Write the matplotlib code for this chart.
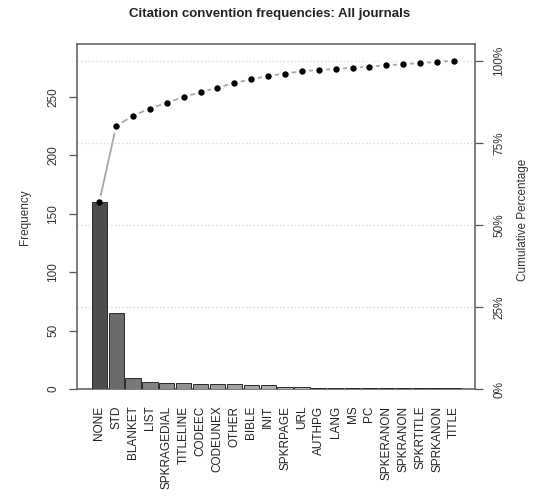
import numpy as np
import matplotlib
matplotlib.use("Agg")
import matplotlib.pyplot as plt

plt.rcParams['font.family'] = ['Liberation Sans', 'DejaVu Sans']

categories = ["NONE", "STD", "BLANKET", "LIST", "SPKRAGEDIAL", "TITLELINE",
              "CODEEC", "CODEUNEX", "OTHER", "BIBLE", "INIT", "SPKRPAGE",
              "URL", "AUTHPG", "LANG", "MS", "PC", "SPKERANON", "SPKRANON",
              "SPKRTITLE", "SPRKANON", "TITLE"]
frequency = [160, 65, 9, 6, 5, 5, 4, 4, 4, 3, 3, 2, 2, 1, 1, 1, 1, 1, 1, 1, 1, 1]
left_ticks = [0, 50, 100, 150, 200, 250]
pct_ticks = [0, 25, 50, 75, 100]
pct_labels = ["0%", "25%", "50%", "75%", "100%"]

W, H = 535, 496
fig = plt.figure(figsize=(W / 100, H / 100), dpi=100)
L, R, T, B = 77.3, 475, 44.3, 389
ax = fig.add_axes([L / W, 1 - B / H, (R - L) / W, (B - T) / H])

n = len(categories)
x = np.arange(n)
freq = np.array(frequency, dtype=float)
cum = np.cumsum(freq)
total = cum[-1]

# grey gradient, dark to light
g = 0.3 + 0.55 * (np.arange(n) / (n - 1)) ** 0.5
colors = [(v, v, v) for v in g]

ax.set_xlim(-1.3, n - 1 + 1.25)
ax.set_ylim(0, total * 1.05)

# grid lines at cumulative percentages
for p in pct_ticks[1:]:
    ax.axhline(total * p / 100, color="#d4d4d4", lw=0.9, ls=(0, (1, 2)), zorder=0)

ax.plot(x, cum, color="#a8a8a8", lw=1.3, zorder=3)
ax.plot(x, cum, ls="none", marker="o", ms=9.5, mfc="white", mec="white",
        mew=0, zorder=3.5)
ax.bar(x, freq, width=0.9, color=colors, edgecolor="#2a2a2a", linewidth=0.7, zorder=4)
ax.plot(x, cum, ls="none", marker="o", ms=4.6, mfc="black", mec="black",
        mew=0, zorder=5)

ax.set_xticks(x)
ax.set_xticklabels(categories, rotation=90, fontsize=8.5, color="#222222")
ax.tick_params(axis="x", length=0, pad=12)

ax.set_yticks(left_ticks)
ax.set_yticklabels([str(t) for t in left_ticks], fontsize=8.5, color="#333333")
ax.tick_params(axis="y", length=6, width=0.9, color="#555555", pad=7)
for lab in ax.get_yticklabels():
    lab.set_rotation(90)
    lab.set_va("center")

for s in ax.spines.values():
    s.set_color("#666666")
    s.set_linewidth(1.2)

ax2 = ax.twinx()
ax2.set_ylim(ax.get_ylim())
ax2.set_yticks([total * p / 100 for p in pct_ticks])
ax2.set_yticklabels(pct_labels, fontsize=8.5, color="#333333")
ax2.tick_params(axis="y", length=6, width=0.9, color="#555555", pad=7)
for lab in ax2.get_yticklabels():
    lab.set_rotation(90)
    lab.set_va("center")
for s in ax2.spines.values():
    s.set_visible(False)

fig.text(270 / W, 1 - 14 / H, "Citation convention frequencies: All journals",
         ha="center", va="center", fontsize=9.5, fontweight="bold", color="#222222")
fig.text(25 / W, 1 - 217 / H, "Frequency", rotation=90, ha="center", va="center",
         fontsize=8.5, color="#333333")
fig.text(523 / W, 1 - 220 / H, "Cumulative Percentage", rotation=90, ha="center",
         va="center", fontsize=8.5, color="#333333")

fig.savefig("out.png", dpi=100)
